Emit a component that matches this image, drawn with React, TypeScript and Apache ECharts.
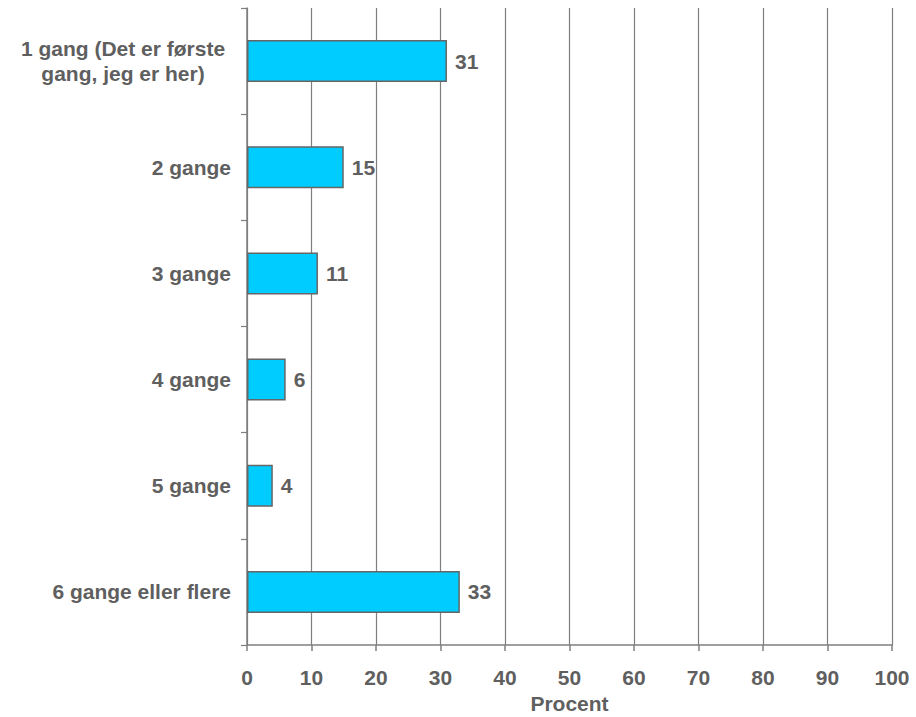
import React, { useEffect, useRef } from "react";
import * as echarts from "echarts";

const categories = [
  "1 gang (Det er første\ngang, jeg er her)",
  "2 gange",
  "3 gange",
  "4 gange",
  "5 gange",
  "6 gange eller flere",
];
const values = [31, 15, 11, 6, 4, 33];
const xTicks = [0, 100, 10];
const xName = "Procent";

const TEXT = "#5f5f5f";
const LINE = "#7f7f7f";
const FONT = "Liberation Sans, Arial, sans-serif";
const FS = 21;

export default function App() {
  const ref = useRef<HTMLDivElement>(null);
  useEffect(() => {
    if (!ref.current) return;
    const chart = echarts.init(ref.current, undefined, { renderer: "svg" });
    chart.setOption({
      animation: false,
      backgroundColor: "#ffffff",
      grid: {
        left: 247,
        right: 24,
        top: 8,
        bottom: 72,
        containLabel: false,
        outerBoundsMode: "none",
      },
      xAxis: {
        type: "value",
        min: xTicks[0],
        max: xTicks[1],
        interval: xTicks[2],
        name: xName,
        nameLocation: "middle",
        nameGap: 44,
        nameTextStyle: { color: TEXT, fontSize: FS, fontWeight: "bold", fontFamily: FONT },
        axisLine: { show: true, lineStyle: { color: LINE, width: 1.5 } },
        axisTick: { show: true, length: 6, lineStyle: { color: LINE, width: 1.5 } },
        axisLabel: { color: TEXT, fontSize: FS, fontWeight: "bold", fontFamily: FONT, margin: 22 },
        splitLine: { show: true, lineStyle: { color: LINE, width: 1.2 } },
      },
      yAxis: {
        type: "category",
        data: categories,
        inverse: true,
        axisLine: { show: true, lineStyle: { color: LINE, width: 1.5 } },
        axisTick: { show: true, length: 6, lineStyle: { color: LINE, width: 1.2 } },
        axisLabel: {
          color: TEXT,
          fontSize: FS,
          fontWeight: "bold",
          fontFamily: FONT,
          margin: 16,
          lineHeight: 25,
          formatter: (v: string) => (v.indexOf("\n") >= 0 ? "{c|" + v + "}" : v),
          rich: {
            c: {
              width: 216,
              align: "center",
              color: TEXT,
              fontSize: FS,
              fontWeight: "bold",
              fontFamily: FONT,
              lineHeight: 25,
            },
          },
        },
        splitLine: { show: false },
      },
      series: [
        {
          type: "bar",
          data: values,
          barWidth: 42,
          itemStyle: { color: "#00ccff", borderColor: "#666666", borderWidth: 1.5 },
          label: {
            show: true,
            position: "right",
            distance: 8,
            color: TEXT,
            fontSize: FS,
            fontWeight: "bold",
            fontFamily: FONT,
          },
        },
      ],
    });
    return () => chart.dispose();
  }, []);
  return (
    <div
      ref={ref}
      style={{ position: "fixed", left: 0, top: 0, width: 916, height: 717, background: "#fff" }}
    />
  );
}
